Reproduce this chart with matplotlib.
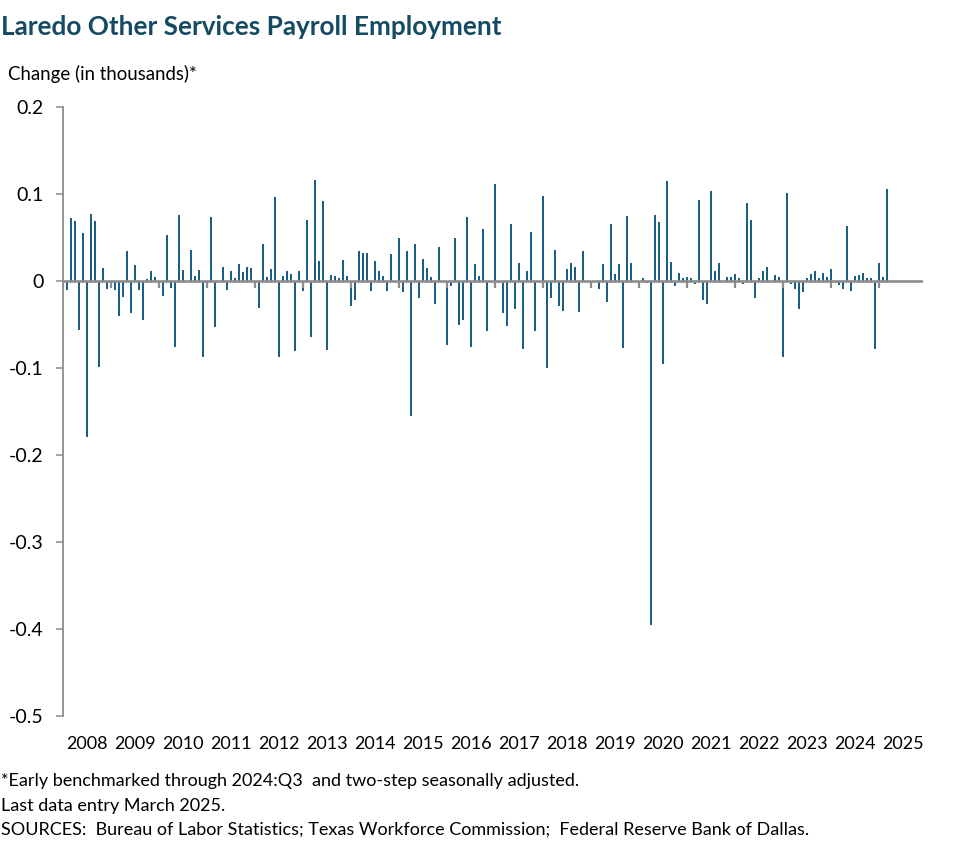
import matplotlib
matplotlib.use("Agg")
import matplotlib.pyplot as plt
import numpy as np

plt.rcParams['axes.unicode_minus'] = False
plt.rcParams['font.family'] = ['Lato', 'DejaVu Sans']

# Monthly change in Laredo "other services" payroll employment (thousands), Jan 2008 - Mar 2025
y2008 = [0.0, -0.010, 0.072, 0.069, -0.056, 0.055, -0.179, 0.0775, 0.069, -0.099, 0.015, -0.009]
y2009 = [-0.005, -0.010, -0.040, -0.018, 0.035, -0.037, 0.018, -0.010, -0.0445, 0.002, 0.011, 0.005]
y2010 = [-0.005, -0.017, 0.053, -0.008, -0.076, 0.076, 0.013, 0.0, 0.036, 0.006, 0.013, -0.087]
y2011 = [-0.006, 0.074, -0.053, 0.0, 0.016, -0.010, 0.012, 0.004, 0.020, 0.010, 0.0165, 0.015]
y2012 = [-0.005, -0.031, 0.043, 0.005, 0.014, 0.097, -0.087, 0.006, 0.012, 0.008, -0.080, 0.012]
y2013 = [-0.011, 0.0705, -0.064, 0.1165, 0.023, 0.0925, -0.079, 0.007, 0.006, 0.003, 0.0245, 0.006]
y2014 = [-0.029, -0.022, 0.034, 0.032, 0.032, -0.011, 0.023, 0.012, 0.006, -0.011, 0.0315, 0.0]
y2015 = [0.050, -0.013, 0.035, -0.1546, 0.043, -0.019, 0.0257, 0.015, 0.005, -0.027, 0.0395, 0.0]
y2016 = [-0.073, -0.006, 0.049, -0.050, -0.0445, 0.073, -0.0755, 0.020, 0.006, 0.060, -0.058, 0.0]
y2017 = [0.111, -0.002, -0.037, -0.052, 0.065, -0.0326, 0.021, -0.0786, 0.011, 0.0568, -0.058, 0.0]
y2018 = [0.098, -0.0997, -0.020, 0.036, -0.029, -0.035, 0.014, 0.021, 0.0165, -0.036, 0.034, 0.0]
y2019 = [-0.004, 0.0, -0.0096, 0.019, -0.0245, 0.065, 0.0085, 0.019, -0.0775, 0.075, 0.021, 0.0]
y2020 = [-0.004, 0.003, -0.002, -0.395, 0.076, 0.068, -0.095, 0.115, 0.022, -0.006, 0.0096, 0.004]
y2021 = [0.005, 0.003, -0.003, 0.0936, -0.0215, -0.026, 0.104, 0.011, 0.021, 0.0, 0.005, 0.005]
y2022 = [0.0085, 0.003, -0.003, 0.090, 0.0705, -0.020, 0.003, 0.011, 0.0165, 0.0, 0.007, 0.005]
y2023 = [-0.087, 0.1017, -0.004, -0.009, -0.0326, -0.013, 0.004, 0.0085, 0.012, 0.003, 0.0096, 0.005]
y2024 = [0.014, 0.0, -0.005, -0.009, 0.0637, -0.011, 0.006, 0.007, 0.0096, 0.004, 0.004, -0.0786]
y2025 = [0.021, 0.005, 0.106]

values = (y2008 + y2009 + y2010 + y2011 + y2012 + y2013 + y2014 + y2015 + y2016
          + y2017 + y2018 + y2019 + y2020 + y2021 + y2022 + y2023 + y2024 + y2025)
years = list(range(2008, 2026))
year_labels = [str(y) for y in years]
y_ticks = [0.2, 0.1, 0.0, -0.1, -0.2, -0.3, -0.4, -0.5]
y_tick_labels = ['0.2', '0.1', '0', '-0.1', '-0.2', '-0.3', '-0.4', '-0.5']

BAR = '#1B5E82'
GRAY = '#8C8C8C'
TITLE = '#144B63'

W, H = 977, 864
fig = plt.figure(figsize=(W / 100, H / 100), dpi=100)
left, right, bottom, top = 62.7, 922.7, 716, 107
ax = fig.add_axes([left / W, 1 - bottom / H, (right - left) / W, (bottom - top) / H])

x = np.arange(len(values))
ax.bar(x, values, width=0.55, color=BAR, zorder=2)

ax.set_xlim(0, 215)
ax.set_ylim(-0.5, 0.2)

# zero line and yearly tick marks on it
ax.axhline(0, color=GRAY, linewidth=1.9, zorder=3)
year_starts = [12 * i for i in range(len(years))]
ax.vlines(year_starts, -0.0075, 0, color=GRAY, linewidth=1.6, zorder=3)

for s in ['top', 'right', 'bottom']:
    ax.spines[s].set_visible(False)
ax.spines['left'].set_color(GRAY)
ax.spines['left'].set_linewidth(1.3)
ax.spines['left'].set_zorder(4)

ax.set_yticks(y_ticks)
ax.set_yticklabels(y_tick_labels)
ax.tick_params(axis='y', direction='out', length=5, width=1.1, color=GRAY,
               labelsize=14, pad=9, labelcolor='black')

ax.set_xticks([12 * i + 6 for i in range(len(years))])
ax.set_xticklabels(year_labels)
ax.tick_params(axis='x', length=0, labelsize=13, pad=14.5, labelcolor='black')

fig.text(1 / W, 1 - 35 / H, 'Laredo Other Services Payroll Employment',
         fontsize=18.8, fontweight='bold', color=TITLE, va='baseline', ha='left')
fig.text(8 / W, 1 - 80 / H, 'Change (in thousands)*', fontsize=13.4,
         va='baseline', ha='left')

foot = ['*Early benchmarked through 2024:Q3  and two-step seasonally adjusted.',
        'Last data entry March 2025.',
        'SOURCES:  Bureau of Labor Statistics; Texas Workforce Commission;  Federal Reserve Bank of Dallas.']
for i, t in enumerate(foot):
    fig.text(1 / W, 1 - (786 + 24.5 * i) / H, t, fontsize=13.0, va='baseline', ha='left')

fig.savefig('out.png', dpi=100)
